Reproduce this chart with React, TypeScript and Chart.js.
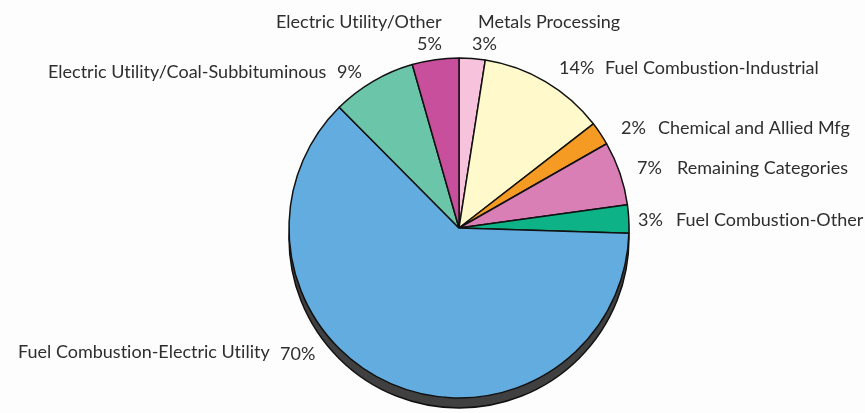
import React, { useEffect, useRef } from "react";
import { Chart, registerables } from "chart.js";

Chart.register(...registerables);

const categories = [
  "Metals Processing",
  "Fuel Combustion-Industrial",
  "Chemical and Allied Mfg",
  "Remaining Categories",
  "Fuel Combustion-Other",
  "Fuel Combustion-Electric Utility",
  "Electric Utility/Coal-Subbituminous",
  "Electric Utility/Other",
];
// slice sizes as drawn in the picture (share of the full circle)
const sliceShares = [2.47, 12.03, 2.25, 6.06, 2.67, 62.08, 8.01, 4.43];
// percentages printed in the labels
const percentLabels = ["3%", "14%", "2%", "7%", "3%", "70%", "9%", "5%"];
const sliceColors = [
  "#f7c3dc",
  "#fff9cc",
  "#f59a23",
  "#d97fb5",
  "#0db387",
  "#63acdf",
  "#6bc6a9",
  "#c84f9c",
];

// label placement: [index, which text, x, baseline y]
const LABEL_LAYOUT: [number, "name" | "pct", number, number][] = [
  [7, "name", 276, 28],
  [7, "pct", 417, 50],
  [0, "name", 478, 28],
  [0, "pct", 472, 50],
  [1, "pct", 559, 74],
  [1, "name", 605, 74],
  [2, "pct", 621, 134],
  [2, "name", 658, 134],
  [3, "pct", 637, 174],
  [3, "name", 677, 174],
  [4, "pct", 638, 226],
  [4, "name", 676, 226],
  [5, "name", 18, 358],
  [5, "pct", 280, 360],
  [6, "name", 48, 78],
  [6, "pct", 337, 78],
];

const FONT = '18px Lato, "Open Sans", sans-serif';

// break typographic ligatures (e.g. "ti") which the reference font does not use
const noLig = (s: string) => s.replace(/([ft])(?=[iflt])/g, "$1\u200C");

const shadowPlugin = {
  id: "pieShadow",
  beforeDatasetsDraw(chart: any) {
    const meta = chart.getDatasetMeta(0);
    const arc = meta.data[0];
    if (!arc) return;
    const { x, y, outerRadius } = arc.getProps(["x", "y", "outerRadius"], true);
    const ctx = chart.ctx;
    ctx.save();
    ctx.beginPath();
    ctx.arc(x, y + 10, outerRadius, 0, Math.PI * 2);
    ctx.fillStyle = "#404040";
    ctx.fill();
    ctx.lineWidth = 1.5;
    ctx.strokeStyle = "#111111";
    ctx.stroke();
    ctx.restore();
  },
};

const labelPlugin = {
  id: "sliceLabels",
  afterDraw(chart: any) {
    const ctx = chart.ctx;
    ctx.save();
    ctx.font = FONT;
    ctx.fillStyle = "#2e2e2e";
    ctx.textAlign = "left";
    ctx.textBaseline = "alphabetic";
    for (const [i, part, x, y] of LABEL_LAYOUT) {
      const text = part === "name" ? categories[i] : percentLabels[i];
      ctx.fillText(noLig(text), x, y);
    }
    ctx.restore();
  },
};

export default function App() {
  const ref = useRef<HTMLCanvasElement | null>(null);
  useEffect(() => {
    if (!ref.current) return;
    const chart = new Chart(ref.current, {
      type: "pie",
      data: {
        labels: categories,
        datasets: [
          {
            data: sliceShares,
            backgroundColor: sliceColors,
            borderColor: "#111111",
            borderWidth: 1.5,
          },
        ],
      },
      options: {
        animation: false,
        responsive: false,
        radius: 170,
        layout: { padding: { left: 288, right: 235, top: 57, bottom: 14 } },
        plugins: {
          legend: { display: false },
          tooltip: { enabled: false },
        },
      },
      plugins: [shadowPlugin, labelPlugin],
    });
    return () => chart.destroy();
  }, []);
  return (
    <div
      style={{
        position: "fixed",
        left: 0,
        top: 0,
        width: 865,
        height: 413,
        background: "#fdfdfd",
      }}
    >
      <canvas ref={ref} width={865} height={413} style={{ width: 865, height: 413 }} />
    </div>
  );
}
